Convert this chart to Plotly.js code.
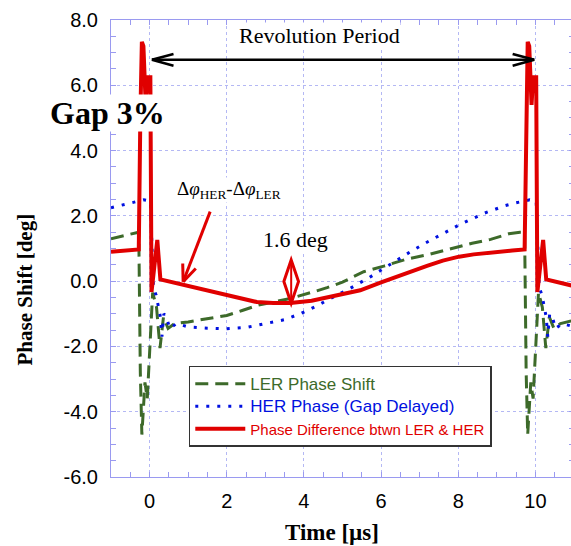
<!DOCTYPE html>
<html>
<head>
<meta charset="utf-8">
<script src="https://cdn.plot.ly/plotly-3.0.1.min.js"></script>
<style>
html,body{margin:0;padding:0;overflow:hidden;background:#fff;}
#chart{width:575px;height:546px;}
</style>
</head>
<body>
<div id="chart"></div>
<script>
// ---- Data (time in µs, phase in deg) ----
const lerT = [-1, -0.6, -0.28, -0.24, -0.2, -0.12, -0.06, 0.08, 0.18, 0.27, 0.36, 0.48, 0.65, 1.0, 1.5, 2.0, 2.4, 2.8, 3.2, 3.65, 4.24, 4.6, 5.0, 5.55, 6.07, 6.68, 7.28, 7.8, 8.36, 8.84, 9.31, 9.6, 9.72, 9.76, 9.8, 9.88, 9.94, 10.08, 10.18, 10.27, 10.36, 10.48, 10.65, 11.0];
const lerY = [1.3, 1.42, 1.5, -2.8, -4.7, -3.1, -3.6, -0.35, -0.8, -2.05, -1.1, -1.45, -1.3, -1.25, -1.16, -1.05, -0.9, -0.74, -0.64, -0.53, -0.33, -0.2, -0.03, 0.29, 0.46, 0.68, 0.83, 1.0, 1.16, 1.28, 1.45, 1.5, 1.5, -2.8, -4.7, -3.1, -3.6, -0.35, -0.8, -2.05, -1.1, -1.45, -1.3, -1.2];

const herT = [-1, -0.7, -0.15, 0.02, 0.1, 0.17, 0.23, 0.28, 0.32, 0.37, 0.44, 0.52, 0.7, 1.0, 1.5, 2.0, 2.5, 3.04, 3.5, 3.9, 4.3, 4.77, 5.2, 5.72, 6.27, 6.8, 7.2, 7.62, 8.02, 8.67, 9.21, 9.5, 9.85, 10.02, 10.1, 10.17, 10.23, 10.28, 10.32, 10.37, 10.44, 10.52, 10.7, 11.0];
const herY = [2.25, 2.34, 2.49, 2.45, -0.2, -0.43, -0.74, -1.1, -1.7, -1.0, -1.1, -1.45, -1.3, -1.4, -1.44, -1.46, -1.42, -1.3, -1.18, -1.0, -0.78, -0.48, -0.22, 0.13, 0.54, 0.93, 1.2, 1.47, 1.72, 2.08, 2.31, 2.4, 2.49, 2.45, -0.2, -0.43, -0.74, -1.1, -1.7, -1.0, -1.1, -1.45, -1.3, -1.4];

const difT = [-1, -0.28, -0.24, -0.2, -0.16, -0.1, -0.06, 0.02, 0.05, 0.2, 0.28, 0.88, 1.5, 2.0, 2.4, 2.78, 3.2, 3.65, 4.2, 4.68, 5.05, 5.46, 6.0, 6.6, 7.19, 7.6, 8.02, 8.4, 8.75, 9.1, 9.4, 9.72, 9.76, 9.8, 9.84, 9.9, 9.94, 10.02, 10.05, 10.2, 10.28, 10.88, 11.0];
const difY = [0.9, 0.97, 5.0, 7.33, 7.2, 5.4, 6.25, 6.25, -0.33, 1.26, 0.05, -0.12, -0.27, -0.43, -0.55, -0.64, -0.67, -0.67, -0.6, -0.48, -0.39, -0.28, -0.04, 0.23, 0.47, 0.63, 0.75, 0.82, 0.87, 0.91, 0.94, 0.97, 5.0, 7.33, 7.2, 5.4, 6.25, 6.25, -0.33, 1.26, 0.05, -0.12, -0.15];

const seriesNames = ['LER Phase Shift', 'HER Phase (Gap Delayed)', 'Phase Difference btwn LER & HER'];
const xTicks = [0, 2, 4, 6, 8, 10];
const yTicks = [-6, -4, -2, 0, 2, 4, 6, 8];

// ---- Annotation anchors (data units unless noted) ----
const revText = {x: 4.40, y: 7.52};
const revArrow = {x0: 0.06, x1: 9.97, y: 6.78, head: 0.56, half: 0.18};
const gapText = {x: -0.008, y: 0.797};           // paper units
const dphiText = {x: 2.06, y: 2.8};
const dphiArrow = {x0: 1.57, y0: 2.13, x1: 0.87, y1: -0.02};
const degText = {x: 3.77, y: 1.27};
const degArrow = {x: 3.67, top: 0.65, mid: -0.01, bottom: -0.68, half: 0.19};

const red = '#e00000', green = '#3d6a2a', blue = '#0010e0';
const axisCol = '#9a9af0', gridCol = '#b4b8f4';

const traces = [
  {x: lerT, y: lerY, name: '<span style="color:' + green + ';font-size:17px">' + seriesNames[0] + '</span>', mode: 'lines',
   line: {color: green, width: 3, dash: '13px,7px'}},
  {x: herT, y: herY, name: '<span style="color:' + blue + ';font-size:17px">' + seriesNames[1] + '</span>', mode: 'lines',
   line: {color: blue, width: 3, dash: '3px,8px'}},
  {x: difT, y: difY, name: '<span style="color:' + red + ';font-size:15px">' + seriesNames[2] + '</span>', mode: 'lines',
   line: {color: red, width: 4}}
];

// Open V arrow head, built in data coordinates
function vHead(tipX, tipY, dirX, dirY, lenPx, halfPx, sx, sy, color, w) {
  const n = Math.hypot(dirX, dirY); const ux = dirX / n, uy = dirY / n;
  const bx = -ux * lenPx, by = -uy * lenPx; const px = -uy * halfPx, py = ux * halfPx;
  const pts = [[bx + px, by + py], [bx - px, by - py]];
  return pts.map(p => ({type: 'line', xref: 'x', yref: 'y',
    x0: tipX, y0: tipY, x1: tipX + p[0] / sx, y1: tipY - p[1] / sy,
    line: {color: color, width: w}}));
}
const sx = 463 / 12, sy = 457 / 14; // px per unit

const dphiDir = [(dphiArrow.x1 - dphiArrow.x0) * sx, -(dphiArrow.y1 - dphiArrow.y0) * sy];

const shapes = [
  {type: 'line', xref: 'x', yref: 'y', x0: revArrow.x0, x1: revArrow.x1, y0: revArrow.y, y1: revArrow.y, line: {color: 'black', width: 2.5}},
  {type: 'line', xref: 'x', yref: 'y', x0: revArrow.x0, x1: revArrow.x0 + revArrow.head, y0: revArrow.y, y1: revArrow.y + revArrow.half, line: {color: 'black', width: 2.5}},
  {type: 'line', xref: 'x', yref: 'y', x0: revArrow.x0, x1: revArrow.x0 + revArrow.head, y0: revArrow.y, y1: revArrow.y - revArrow.half, line: {color: 'black', width: 2.5}},
  {type: 'line', xref: 'x', yref: 'y', x0: revArrow.x1, x1: revArrow.x1 - revArrow.head, y0: revArrow.y, y1: revArrow.y + revArrow.half, line: {color: 'black', width: 2.5}},
  {type: 'line', xref: 'x', yref: 'y', x0: revArrow.x1, x1: revArrow.x1 - revArrow.head, y0: revArrow.y, y1: revArrow.y - revArrow.half, line: {color: 'black', width: 2.5}},
  {type: 'line', xref: 'x', yref: 'y', x0: dphiArrow.x0, y0: dphiArrow.y0, x1: dphiArrow.x1, y1: dphiArrow.y1, line: {color: red, width: 3}},
  ...vHead(dphiArrow.x1, dphiArrow.y1, dphiDir[0], dphiDir[1], 17, 7, sx, sy, red, 3),
  {type: 'path', xref: 'x', yref: 'y',
   path: 'M' + degArrow.x + ',' + degArrow.top + ' L' + (degArrow.x + degArrow.half) + ',' + degArrow.mid +
         ' L' + degArrow.x + ',' + degArrow.bottom + ' L' + (degArrow.x - degArrow.half) + ',' + degArrow.mid + ' Z',
   fillcolor: 'white', line: {color: red, width: 3}},
  {type: 'line', xref: 'x', yref: 'y', x0: degArrow.x, x1: degArrow.x, y0: degArrow.top, y1: degArrow.bottom, line: {color: red, width: 2}}
];

const serif = 'Liberation Serif, Times New Roman, serif';
const sans = 'Liberation Sans, Arial, Helvetica, sans-serif';

const annotations = [
  {x: revText.x, y: revText.y, xref: 'x', yref: 'y', text: 'Revolution Period', showarrow: false,
   font: {family: serif, size: 22, color: 'black'}, bgcolor: 'white', borderpad: 0},
  {x: gapText.x, y: gapText.y, xref: 'paper', yref: 'paper', xanchor: 'center', yanchor: 'middle', text: '<b>Gap 3%</b>', showarrow: false,
   font: {family: serif, size: 32, color: 'black'}, bgcolor: 'white', borderpad: 0},
  {x: dphiText.x, y: dphiText.y, xref: 'x', yref: 'y', text: 'Δ<i>φ</i><sub>HER</sub>-Δ<i>φ</i><sub>LER</sub>', showarrow: false,
   font: {family: serif, size: 19, color: 'black'}, bgcolor: 'white', borderpad: 0},
  {x: degText.x, y: degText.y, xref: 'x', yref: 'y', text: '1.6 deg', showarrow: false,
   font: {family: serif, size: 22, color: 'black'}, bgcolor: 'white', borderpad: 0},
  {x: -0.186, y: 0.41, xref: 'paper', yref: 'paper', xanchor: 'center', yanchor: 'middle', text: '<b>Phase Shift [deg]</b>', showarrow: false, textangle: -90,
   font: {family: serif, size: 21, color: 'black'}},
  {x: 0.477, y: -0.122, xref: 'paper', yref: 'paper', xanchor: 'center', yanchor: 'middle', text: '<b>Time [µs]</b>', showarrow: false,
   font: {family: serif, size: 23, color: 'black'}}
];

const axisCommon = {
  showline: true, linecolor: axisCol, linewidth: 1, mirror: 'allticks',
  ticks: 'inside', ticklen: 5, tickcolor: axisCol, tickwidth: 1,
  showgrid: true, gridcolor: gridCol, gridwidth: 1, griddash: 'dot',
  zeroline: false,
  tickfont: {family: sans, size: 20, color: 'black'},
  minor: {dtick: 0.5, ticks: 'inside', ticklen: 5, tickcolor: axisCol, showgrid: false}
};

const layout = {
  width: 575, height: 546,
  margin: {l: 111, r: 1, t: 20, b: 69},
  paper_bgcolor: 'white', plot_bgcolor: 'white',
  showlegend: true,
  xaxis: Object.assign({}, axisCommon, {range: [-1, 11], tickmode: 'array', tickvals: xTicks, ticktext: xTicks.map(String), ticklabelstandoff: 6}),
  yaxis: Object.assign({}, axisCommon, {range: [-6, 8], tickmode: 'array', tickvals: yTicks, ticktext: yTicks.map(v => v.toFixed(1)), ticklabelstandoff: 8}),
  legend: {x: 0.168, y: 0.243, xanchor: 'left', yanchor: 'top', bgcolor: 'white', bordercolor: '#333', borderwidth: 1.5,
           font: {family: sans, size: 15, color: 'black'}, itemwidth: 50, tracegroupgap: 0},
  shapes: shapes,
  annotations: annotations
};

Plotly.newPlot('chart', traces, layout, {displayModeBar: false, staticPlot: true});
</script>
</body>
</html>
